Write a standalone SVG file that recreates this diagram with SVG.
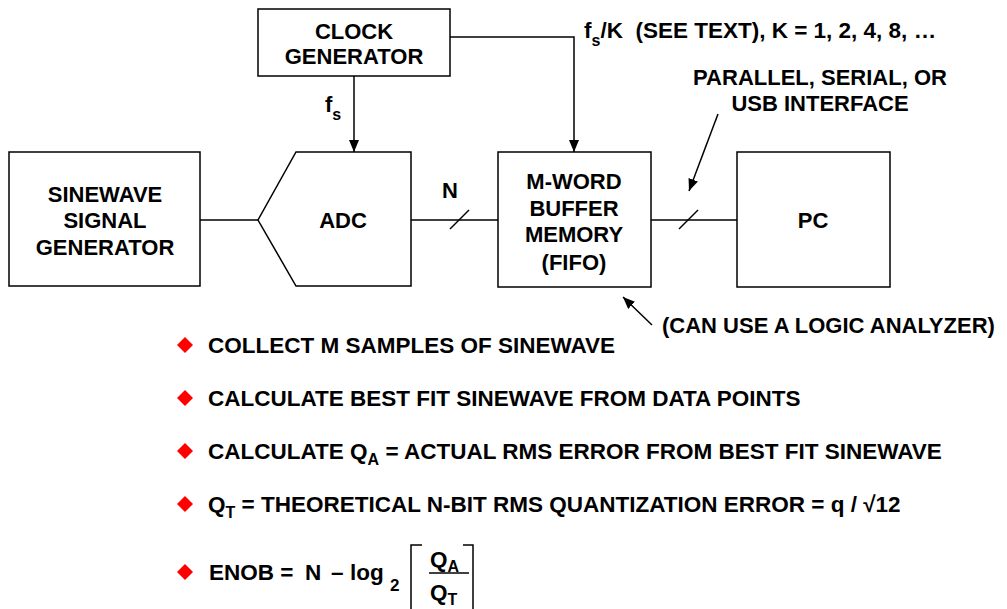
<svg xmlns="http://www.w3.org/2000/svg" width="1007" height="609" viewBox="0 0 1007 609">
<defs>
<style>
.t{font-family:"Liberation Sans",Arial,sans-serif;font-weight:bold;font-size:22px;fill:#000}
.b{font-size:22.5px}
.c{text-anchor:middle}
.box{fill:#fff;stroke:#000;stroke-width:1.5}
.ln{fill:none;stroke:#000;stroke-width:1.5}
.sub{font-size:16px}
.dia{fill:#f00}
</style>
<marker id="ah" viewBox="0 0 12 10" refX="12" refY="5" markerWidth="12" markerHeight="10" markerUnits="userSpaceOnUse" orient="auto">
<path d="M0,0 L12,5 L0,10 Z" fill="#000"/>
</marker>
</defs>
<rect width="1007" height="609" fill="#fff"/>
<g id="connectors">
<path class="ln" d="M354,76 V152" marker-end="url(#ah)"/>
<path class="ln" d="M450,37 H574 V152" marker-end="url(#ah)"/>
<path class="ln" d="M200,220 H258"/>
<path class="ln" d="M411,220 H498"/>
<path class="ln" d="M450,229 L469,210"/>
<path class="ln" d="M651,220 H737"/>
<path class="ln" d="M679,229 L698,210"/>
<path class="ln" d="M718,114 L689,191" marker-end="url(#ah)"/>
<path class="ln" d="M652,325 L623,297" marker-end="url(#ah)"/>
</g>
<g id="clock">
<rect class="box" x="258" y="9" width="192" height="67"/>
<text class="t c" x="354" y="39">CLOCK</text>
<text class="t c" x="354" y="64">GENERATOR</text>
</g>
<g id="sinewave">
<rect class="box" x="9" y="152" width="191" height="134"/>
<text class="t c" x="105" y="202">SINEWAVE</text>
<text class="t c" x="105" y="228">SIGNAL</text>
<text class="t c" x="105" y="255">GENERATOR</text>
</g>
<g id="adc">
<path class="box" d="M296,152 H411 V286 H296 L258,220 Z"/>
<text class="t c" x="343" y="228">ADC</text>
</g>
<g id="fifo">
<rect class="box" x="498" y="152" width="153" height="135"/>
<text class="t c" x="574" y="189">M-WORD</text>
<text class="t c" x="574" y="216">BUFFER</text>
<text class="t c" x="574" y="242">MEMORY</text>
<text class="t c" x="574" y="270">(FIFO)</text>
</g>
<g id="pc">
<rect class="box" x="737" y="152" width="153" height="135"/>
<text class="t c" x="813" y="228">PC</text>
</g>
<g id="labels">
<text class="t" x="325" y="112">f<tspan class="sub" dy="8">s</tspan></text>
<text class="t b" x="584" y="38" xml:space="preserve">f<tspan class="sub" dy="8">s</tspan><tspan dy="-8">/K  (SEE TEXT), K = 1, 2, 4, 8, …</tspan></text>
<text class="t c" x="450" y="198">N</text>
<text class="t c" x="820" y="85">PARALLEL, SERIAL, OR</text>
<text class="t c" x="820" y="111">USB INTERFACE</text>
<text class="t" x="662" y="333">(CAN USE A LOGIC ANALYZER)</text>
</g>
<g id="bullets">
<path class="dia" d="M185,337 L193,345 L185,353 L177,345 Z"/>
<path class="dia" d="M185,390 L193,398 L185,406 L177,398 Z"/>
<path class="dia" d="M185,443 L193,451 L185,459 L177,451 Z"/>
<path class="dia" d="M185,496 L193,504 L185,512 L177,504 Z"/>
<path class="dia" d="M185,564 L193,572 L185,580 L177,572 Z"/>
<text class="t b" x="208" y="353">COLLECT M SAMPLES OF SINEWAVE</text>
<text class="t b" x="208" y="406">CALCULATE BEST FIT SINEWAVE FROM DATA POINTS</text>
<text class="t b" x="208" y="459">CALCULATE Q<tspan class="sub" dy="6">A</tspan><tspan dy="-6"> = ACTUAL RMS ERROR FROM BEST FIT SINEWAVE</tspan></text>
<text class="t b" x="208" y="512">Q<tspan class="sub" dy="6">T</tspan><tspan dy="-6"> = THEORETICAL N-BIT RMS QUANTIZATION ERROR = q / √12</tspan></text>
<text class="t b" x="209" y="580">ENOB =</text>
<text class="t b" x="305" y="580">N</text>
<text class="t b" x="331" y="580">–</text>
<text class="t b" x="350" y="580">log</text>
<text class="t" x="390" y="591" style="font-size:17px">2</text>
<path class="ln" d="M422,545 H411 V609"/>
<path class="ln" d="M463,545 H473 V609"/>
<path class="ln" d="M429,573 H469"/>
<text class="t b" x="430" y="567">Q<tspan class="sub" dy="5">A</tspan></text>
<text class="t b" x="430" y="600">Q<tspan class="sub" dy="5">T</tspan></text>
</g>
</svg>
